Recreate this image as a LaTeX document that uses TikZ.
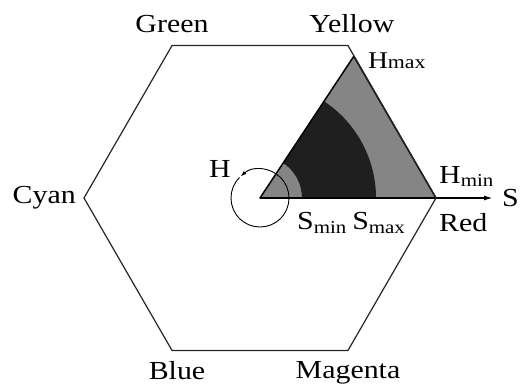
\documentclass[tikz,border=0pt]{standalone}
\usepackage{fontspec}
\setmainfont{Liberation Serif}[FakeStretch = 1.15]
\usetikzlibrary{arrows.meta, positioning, calc}

\begin{document}
\begin{tikzpicture}[
        x = 1pt, y = 1pt, node distance = 8pt,
        >= {Latex[length = 9pt, width = 5pt]},
        hue/.style = {font = \fontsize{26}{28}\selectfont, inner sep = 0pt},
        mark label/.style = {font = \fontsize{24}{26}\selectfont, inner sep = 0pt},
        rim/.style = {draw = black!85, line width = 1.2pt},
        shell/.style = {fill = black!48},
        core/.style = {fill = black!88},
        edge line/.style = {draw = black, line width = 1.5pt, line join = round},
        turn/.style = {draw = black, line width = 0.9pt, -{Latex[length = 6pt, width = 4pt]}}
    ]
    \useasboundingbox (0,0) rectangle (527,389);

    % hexagon corners
    \coordinate (o) at (260,191);
    \foreach \a/\n in {0/red, 60/yellow, 120/green, 180/cyan, 240/blue, 300/magenta}
        \coordinate (\n) at ($(o) + (\a:176)$);
    \coordinate (apex) at ($(o) + (56.5:170)$);
    \coordinate (s end) at ($(o) + (233,0)$);

    % hue / saturation window
    \fill[shell] (o) -- (red) -- (apex) -- cycle;
    \fill[core] ($(o) + (0:42)$) arc[start angle = 0, end angle = 56.5, radius = 42]
        -- ($(o) + (56.5:116)$) arc[start angle = 56.5, end angle = 0, radius = 116] -- cycle;
    \draw[edge line] (o) -- (red) -- (apex) -- cycle;
    \draw[edge line, ->] (o) -- (s end);
    \draw[turn] ($(o) + (-225:29)$) arc[start angle = -225, end angle = 132, radius = 29];

    \draw[rim] (red) -- (yellow) -- (green) -- (cyan) -- (blue) -- (magenta) -- cycle;

    % colour names
    \node[hue, above = 13pt of green] (green label) {Green};
    \node[hue, above = 13pt of yellow, xshift = 4pt] (yellow label) {Yellow};
    \node[hue, left = 8pt of cyan] (cyan label) {Cyan};
    \node[hue, below = 11pt of blue, xshift = 5pt] (blue label) {Blue};
    \node[hue, below = 11pt of magenta] (magenta label) {Magenta};
    \node[hue, below right = 15pt and 3pt of red] (red label) {Red};

    % limits
    \node[mark label, right = 14pt of apex, yshift = -4pt] (hmax) {H{\fontsize{19}{20}\selectfont max}};
    \node[hue, above right = 11pt and 3pt of red] (hmin) {H\textsubscript{min}};
    \node[hue, right = 9pt of s end] (s label) {S};
    \node[hue, anchor = north west] (smin) at ($(o) + (37,-14)$) {S\textsubscript{min}};
    \node[hue, right = 5pt of smin] (smax) {S\textsubscript{max}};
    \node[hue, anchor = south east] (h label) at ($(o) + (-29,20)$) {H};
\end{tikzpicture}
\end{document}
